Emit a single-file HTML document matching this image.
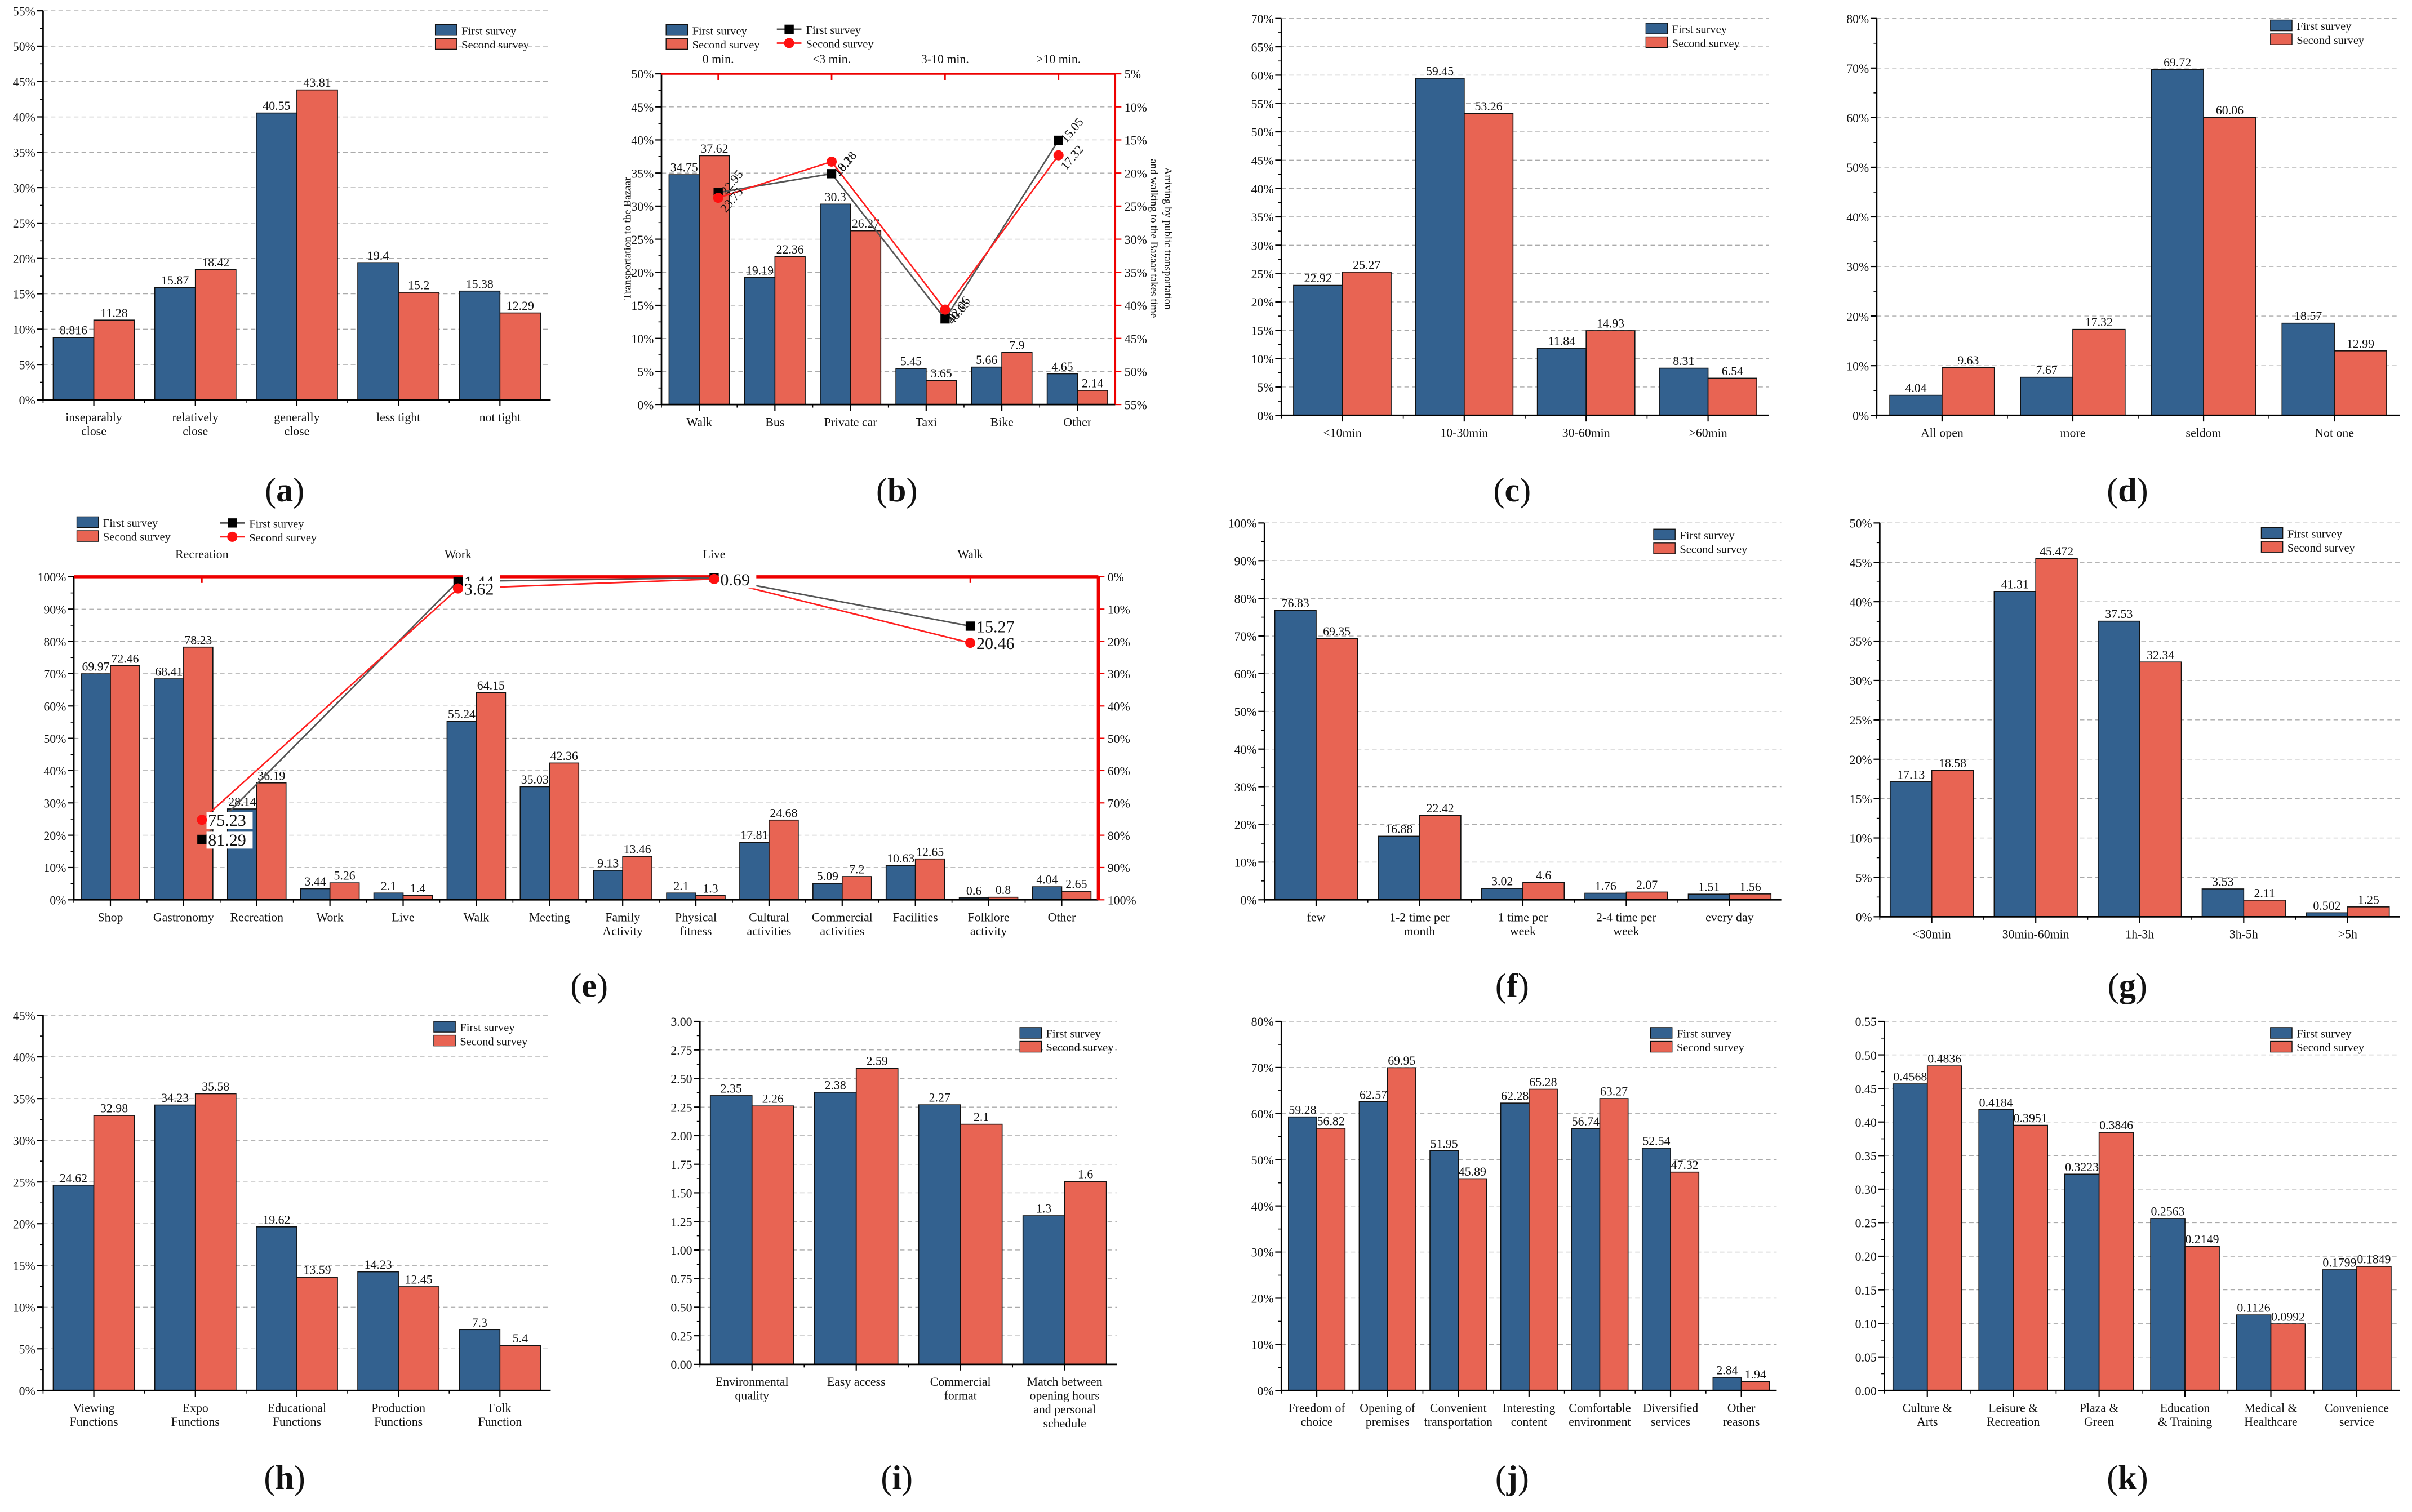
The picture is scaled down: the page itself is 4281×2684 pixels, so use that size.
<!DOCTYPE html>
<html><head><meta charset="utf-8"><style>
html,body{margin:0;padding:0;background:#fff}
svg{display:block}
text{font-family:"Liberation Serif","Noto Serif CJK SC",serif;fill:#111}
</style></head><body>
<svg id="s" width="4281" height="2684" viewBox="0 0 1568 983" preserveAspectRatio="none" xmlns="http://www.w3.org/2000/svg"></svg>
<script>
const aCats=["inseparably\nclose","relatively\nclose","generally\nclose","less tight","not tight"];
const aFirst=[8.816,15.87,40.55,19.4,15.38];
const aSecond=[11.28,18.42,43.81,15.2,12.29];
const bCats=["Walk","Bus","Private car","Taxi","Bike","Other"];
const bFirst=[34.75,19.19,30.3,5.45,5.66,4.65];
const bSecond=[37.62,22.36,26.27,3.65,7.9,2.14];
const bTimeCats=["0 min.","<3 min.","3-10 min.",">10 min."];
const bLineFirst=[22.95,20.1,42.06,15.05];
const bLineSecond=[23.75,18.28,40.65,17.32];
const cCats=["<10min","10-30min","30-60min",">60min"];
const cFirst=[22.92,59.45,11.84,8.31];
const cSecond=[25.27,53.26,14.93,6.54];
const dCats=["All open","more","seldom","Not one"];
const dFirst=[4.04,7.67,69.72,18.57];
const dSecond=[9.63,17.32,60.06,12.99];
const eCats=["Shop","Gastronomy","Recreation","Work","Live","Walk","Meeting","Family\nActivity","Physical\nfitness","Cultural\nactivities","Commercial\nactivities","Facilities","Folklore\nactivity","Other"];
const eFirst=[69.97,68.41,28.14,3.44,2.1,55.24,35.03,9.13,2.1,17.81,5.09,10.63,0.6,4.04];
const eSecond=[72.46,78.23,36.19,5.26,1.4,64.15,42.36,13.46,1.3,24.68,7.2,12.65,0.8,2.65];
const eTopCats=["Recreation","Work","Live","Walk"];
const eLineFirst=[81.29,1.44,0.3,15.27];
const eLineSecond=[75.23,3.62,0.69,20.46];
const fCats=["few","1-2 time per\nmonth","1 time per\nweek","2-4 time per\nweek","every day"];
const fFirst=[76.83,16.88,3.02,1.76,1.51];
const fSecond=[69.35,22.42,4.6,2.07,1.56];
const gCats=["<30min","30min-60min","1h-3h","3h-5h",">5h"];
const gFirst=[17.13,41.31,37.53,3.53,0.502];
const gSecond=[18.58,45.472,32.34,2.11,1.25];
const hCats=["Viewing\nFunctions","Expo\nFunctions","Educational\nFunctions","Production\nFunctions","Folk\nFunction"];
const hFirst=[24.62,34.23,19.62,14.23,7.3];
const hSecond=[32.98,35.58,13.59,12.45,5.4];
const iCats=["Environmental\nquality","Easy access","Commercial\nformat","Match between\nopening hours\nand personal\nschedule"];
const iFirst=[2.35,2.38,2.27,1.3];
const iSecond=[2.26,2.59,2.1,1.6];
const jCats=["Freedom of\nchoice","Opening of\npremises","Convenient\ntransportation","Interesting\ncontent","Comfortable\nenvironment","Diversified\nservices","Other\nreasons"];
const jFirst=[59.28,62.57,51.95,62.28,56.74,52.54,2.84];
const jSecond=[56.82,69.95,45.89,65.28,63.27,47.32,1.94];
const kCats=["Culture &\nArts","Leisure &\nRecreation","Plaza &\nGreen","Education\n& Training","Medical &\nHealthcare","Convenience\nservice"];
const kFirst=[0.4568,0.4184,0.3223,0.2563,0.1126,0.1799];
const kSecond=[0.4836,0.3951,0.3846,0.2149,0.0992,0.1849];

const S=document.getElementById('s');
const NS="http://www.w3.org/2000/svg";
const BLUE="#33618f",RED="#e86453";
function el(tag,attrs,parent,txt){const e=document.createElementNS(NS,tag);for(const k in attrs)e.setAttribute(k,attrs[k]);if(txt!==undefined)e.textContent=txt;(parent||S).appendChild(e);return e;}

function chart(c){
  const g=el('g',{});
  
  
  const n=c.cats.length,cw=(c.x1-c.x0)/n;
  const Y=v=>c.y0-(v-c.ymin)/(c.ymax-c.ymin)*(c.y0-c.y1);
  const X=i=>c.x0+cw*(i+0.5);
  const nt=Math.round((c.ymax-c.ymin)/c.step);
  for(let k=0;k<=nt;k++){
    const v=c.ymin+k*c.step,y=Y(v);
    if(k>0){const gl=el('line',{x1:c.x0,x2:c.x1,y1:y,y2:y,stroke:'#aaa','stroke-width':0.5,'stroke-dasharray':'3,2'},g);
      }
    el('line',{x1:c.x0-4,x2:c.x0,y1:y,y2:y,stroke:'#000','stroke-width':0.8},g);
    if(k<nt){const ym=Y(v+c.step/2);el('line',{x1:c.x0-2,x2:c.x0,y1:ym,y2:ym,stroke:'#000','stroke-width':0.6},g);}
    const t=el('text',{x:c.x0-5,y:y+3,'font-size':8,'text-anchor':'end'},g,c.fmt(v));
    
  }
  const bw=cw*0.4;
  c.cats.forEach((cat,i)=>{
    const cx=X(i);
    [[c.s1[i],BLUE,cx-bw,'bar-first'],[c.s2[i],RED,cx,'bar-second']].forEach(([v,col,bx,nm])=>{
      const r=el('rect',{x:bx,y:Y(v),width:bw,height:Y(c.ymin)-Y(v),fill:col,stroke:'#111','stroke-width':0.6},g);
      
      const t=el('text',{x:bx+bw/2,y:Y(v)-2,'font-size':8,'text-anchor':'middle'},g,String(v));
      
    });
    el('line',{x1:cx,x2:cx,y1:c.y0,y2:c.y0+4,stroke:'#000','stroke-width':0.8},g);
    el('line',{x1:c.x0+cw*i,x2:c.x0+cw*i,y1:c.y0,y2:c.y0+2,stroke:'#000','stroke-width':0.6},g);
    cat.split('\n').forEach((ln,j)=>{
      const t=el('text',{x:cx,y:c.y0+14+j*9,'font-size':8,'text-anchor':'middle'},g,ln);
      
    });
  });
  el('line',{x1:c.x0,x2:c.x0,y1:c.y1,y2:c.y0,stroke:'#000','stroke-width':1},g);
  el('line',{x1:c.x0,x2:c.x1,y1:c.y0,y2:c.y0,stroke:'#000','stroke-width':1},g);
  const lg=el('g',{},g);
  el('rect',{x:c.lx,y:c.ly,width:14,height:7,fill:BLUE,stroke:'#111','stroke-width':0.5},lg);
  el('rect',{x:c.lx,y:c.ly+9,width:14,height:7,fill:RED,stroke:'#111','stroke-width':0.5},lg);
  el('text',{x:c.lx+17,y:c.ly+6.5,'font-size':7.5},lg,'First survey');
  el('text',{x:c.lx+17,y:c.ly+15.5,'font-size':7.5},lg,'Second survey');
  const pl=el('text',{x:c.px,y:c.py,'font-size':22,'text-anchor':'middle'},S);
  
  el('tspan',{},pl,'(');el('tspan',{'font-weight':'bold'},pl,c.letter);el('tspan',{},pl,')');
  return {g,Y,X};
}
function lineOverlay(c,top,l1,l2,rmin,rmax,rstep,rfmt,labelBox){
  const g=el('g',{});
  const n=top.length,cw=(c.x1-c.x0)/n;
  const X=i=>c.x0+cw*(i+0.5);
  const R=v=>c.y1+(v-rmin)/(rmax-rmin)*(c.y0-c.y1);
  el('line',{x1:c.x0,x2:c.x1,y1:c.y1,y2:c.y1,stroke:'#e00','stroke-width':labelBox?2:1.2},g);
  el('line',{x1:c.x1,x2:c.x1,y1:c.y1,y2:c.y0,stroke:'#e00','stroke-width':labelBox?2:1.2},g);
  const nt=Math.round((rmax-rmin)/rstep);
  for(let k=0;k<=nt;k++){const v=rmin+k*rstep,y=R(v);
    el('line',{x1:c.x1,x2:c.x1+4,y1:y,y2:y,stroke:'#e00','stroke-width':0.8},g);
    const t=el('text',{x:c.x1+6,y:y+3,'font-size':8},g,rfmt(v));
    }
  top.forEach((t,i)=>{el('line',{x1:X(i),x2:X(i),y1:c.y1,y2:c.y1+4,stroke:'#e00','stroke-width':1},g);
    const tt=el('text',{x:X(i),y:c.y1-(labelBox?12:7),'font-size':8,'text-anchor':'middle'},g,t);
    });
  [[l1,'#555','sq'],[l2,'#ff2020','ci']].forEach(([arr,col,m],si)=>{
    const p=el('polyline',{points:arr.map((v,i)=>X(i)+','+R(v)).join(' '),fill:'none',stroke:col,'stroke-width':1},g);
    
    arr.forEach((v,i)=>{
      const x=X(i),y=R(v);
      let t;
      if(labelBox){
        const bg=el('rect',{x:x+3,y:y-5,width:String(v).length*5.6+2,height:11,fill:'#fff'},g);
        
        t=el('text',{x:x+4,y:y+4,'font-size':11},g,String(v));}
      else{t=el('text',{x:x+5,y:y+(si?10:2),'font-size':8,transform:`rotate(-50 ${x+5} ${y+(si?10:2)})`},g,String(v));}
      
      if(m=='sq'){const r=el('rect',{x:x-3,y:y-3,width:6,height:6,fill:'#000'},g);}
      else {const r=el('circle',{cx:x,cy:y,r:3.3,fill:'#ff1010'},g);}
    });
  });
  const lg=el('g',{},g);
  const lx=c.llx,ly=c.lly;
  el('line',{x1:lx,x2:lx+16,y1:ly+3,y2:ly+3,stroke:'#555','stroke-width':1},lg);
  el('rect',{x:lx+5,y:ly,width:6,height:6,fill:'#000'},lg);
  el('line',{x1:lx,x2:lx+16,y1:ly+12,y2:ly+12,stroke:'#ff2020','stroke-width':1},lg);
  el('circle',{cx:lx+8,cy:ly+12,r:3.3,fill:'#ff1010'},lg);
  el('text',{x:lx+19,y:ly+6,'font-size':7.5},lg,'First survey');
  el('text',{x:lx+19,y:ly+15,'font-size':7.5},lg,'Second survey');
}
const pct=v=>Math.round(v)+'%';
const dec=v=>v.toFixed(2);

chart({name:'chart-a',letter:'a',cats:aCats,s1:aFirst,s2:aSecond,x0:28,x1:358,y0:260,y1:7,ymin:0,ymax:55,step:5,fmt:pct,lx:283,ly:16,px:185,py:326});
const cb={name:'chart-b',letter:'b',cats:bCats,s1:bFirst,s2:bSecond,x0:430,x1:725,y0:263,y1:48,ymin:0,ymax:50,step:5,fmt:pct,lx:433,ly:16,px:583,py:326,llx:505,lly:16};
chart(cb);
lineOverlay(cb,bTimeCats,bLineFirst,bLineSecond,5,55,5,pct,false);
{const t=el('text',{x:410,y:155,'font-size':7,'text-anchor':'middle',transform:'rotate(-90 410 155)'},S,'Transportation to the Bazaar');
 const t2=el('text',{x:757,y:155,'font-size':7,'text-anchor':'middle',transform:'rotate(90 757 155)'},S,'Arriving by public transportation');
 const t3=el('text',{x:748,y:155,'font-size':7,'text-anchor':'middle',transform:'rotate(90 748 155)'},S,'and walking to the Bazaar takes time');}
chart({name:'chart-c',letter:'c',cats:cCats,s1:cFirst,s2:cSecond,x0:833,x1:1150,y0:270,y1:12,ymin:0,ymax:70,step:5,fmt:pct,lx:1070,ly:15,px:983,py:326});
chart({name:'chart-d',letter:'d',cats:dCats,s1:dFirst,s2:dSecond,x0:1220,x1:1560,y0:270,y1:12,ymin:0,ymax:80,step:10,fmt:pct,lx:1476,ly:13,px:1383,py:326});
const ce={name:'chart-e',letter:'e',cats:eCats,s1:eFirst,s2:eSecond,x0:48,x1:714,y0:585,y1:375,ymin:0,ymax:100,step:10,fmt:pct,lx:50,ly:336,px:383,py:648,llx:143,lly:337};
chart(ce);
lineOverlay(ce,eTopCats,eLineFirst,eLineSecond,0,100,10,pct,true);
chart({name:'chart-f',letter:'f',cats:fCats,s1:fFirst,s2:fSecond,x0:822,x1:1158,y0:585,y1:340,ymin:0,ymax:100,step:10,fmt:pct,lx:1075,ly:344,px:983,py:648});
chart({name:'chart-g',letter:'g',cats:gCats,s1:gFirst,s2:gSecond,x0:1222,x1:1560,y0:596,y1:340,ymin:0,ymax:50,step:5,fmt:pct,lx:1470,ly:343,px:1383,py:648});
chart({name:'chart-h',letter:'h',cats:hCats,s1:hFirst,s2:hSecond,x0:28,x1:358,y0:904,y1:660,ymin:0,ymax:45,step:5,fmt:pct,lx:282,ly:664,px:185,py:968});
chart({name:'chart-i',letter:'i',cats:iCats,s1:iFirst,s2:iSecond,x0:455,x1:726,y0:887,y1:664,ymin:0,ymax:3,step:0.25,fmt:dec,lx:663,ly:668,px:583,py:968});
chart({name:'chart-j',letter:'j',cats:jCats,s1:jFirst,s2:jSecond,x0:833,x1:1155,y0:904,y1:664,ymin:0,ymax:80,step:10,fmt:pct,lx:1073,ly:668,px:983,py:968});
chart({name:'chart-k',letter:'k',cats:kCats,s1:kFirst,s2:kSecond,x0:1225,x1:1560,y0:904,y1:664,ymin:0,ymax:0.55,step:0.05,fmt:dec,lx:1476,ly:668,px:1383,py:968});
</script>
</body></html>
